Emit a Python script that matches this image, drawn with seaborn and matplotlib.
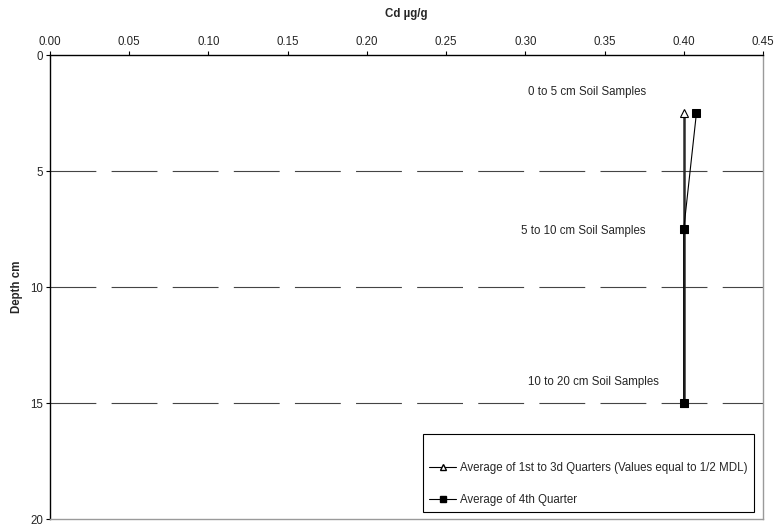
import matplotlib
matplotlib.use("Agg")
import matplotlib.pyplot as plt
import seaborn as sns
import pandas as pd
from matplotlib.lines import Line2D
from matplotlib.ticker import FormatStrFormatter

# sample depths (cm) and Cd concentrations (ug/g)
depth = [2.5, 7.5, 15.0]
avg_q1_q3 = [0.40, 0.40, 0.40]
avg_q4 = [0.408, 0.40, 0.40]
layer_labels = ["0 to 5 cm Soil Samples", "5 to 10 cm Soil Samples", "10 to 20 cm Soil Samples"]
label_x = [0.376, 0.376, 0.384]
label_y = [1.6, 7.6, 14.1]
series_names = ["Average of 1st to 3d Quarters (Values equal to 1/2 MDL)",
                "Average of 4th Quarter"]

FS = 8.3

sns.set_style("white")
plt.rcParams["font.family"] = ["Liberation Sans", "DejaVu Sans"]
plt.rcParams["font.size"] = FS
plt.rcParams["lines.scale_dashes"] = False

fig = plt.figure(figsize=(7.78, 5.24), dpi=100)
ax = fig.add_axes([0.0643, 0.0095, 0.9164, 0.8855])

df1 = pd.DataFrame({"cd": avg_q1_q3, "depth": depth})
df2 = pd.DataFrame({"cd": avg_q4, "depth": depth})

sns.lineplot(data=df1, x="cd", y="depth", sort=False, estimator=None, ax=ax,
             color="#2a2a2a", linewidth=1.8, marker="^", markersize=6,
             markerfacecolor="white", markeredgecolor="black", markeredgewidth=0.8,
             zorder=3)
sns.lineplot(data=df2, x="cd", y="depth", sort=False, estimator=None, ax=ax,
             color="black", linewidth=0.8, marker="s", markersize=5.5,
             markerfacecolor="black", markeredgecolor="black", zorder=4)

for txt, lx, ly in zip(layer_labels, label_x, label_y):
    ax.text(lx, ly, txt, ha="right", va="center", fontsize=FS)

ax.set_xlim(0, 0.45)
ax.set_ylim(20, 0)
ax.set_xticks([i * 0.05 for i in range(10)])
ax.set_yticks([0, 5, 10, 15, 20])
ax.xaxis.set_major_formatter(FormatStrFormatter("%.2f"))
ax.xaxis.tick_top()
ax.xaxis.set_label_position("top")
ax.tick_params(axis="x", direction="out", length=3, width=0.8, color="black",
               top=True, bottom=False, pad=2, labelsize=FS)
ax.tick_params(axis="y", direction="out", length=3, width=0.8, color="black",
               left=True, pad=2, labelsize=FS)
ax.set_xlabel("Cd µg/g", fontweight="bold", fontsize=FS, labelpad=14)
ax.set_ylabel("Depth cm", fontweight="bold", fontsize=FS, labelpad=5)

for side in ["left", "top"]:
    ax.spines[side].set_color("black")
    ax.spines[side].set_linewidth(1.0)
for side in ["right", "bottom"]:
    ax.spines[side].set_color("#9a9a9a")
    ax.spines[side].set_linewidth(1.0)

ax.yaxis.grid(True, color="#444444", linewidth=0.8, linestyle=(0, (33, 11)))
ax.xaxis.grid(False)
gl = ax.get_ygridlines()
gl[0].set_visible(False)
gl[-1].set_visible(False)

handles = [
    Line2D([], [], color="black", linewidth=0.8, marker="^", markersize=5,
           markerfacecolor="white", markeredgecolor="black"),
    Line2D([], [], color="black", linewidth=0.8, marker="s", markersize=5,
           markerfacecolor="black", markeredgecolor="black"),
]
# blank title only adds the extra room above the first entry
leg = ax.legend(handles, series_names, loc="lower left",
                bbox_to_anchor=(0.523, 0.015, 0.464, 0.17), mode="expand",
                frameon=True, fancybox=False, edgecolor="black", framealpha=1,
                fontsize=FS, handlelength=2.4, handletextpad=0.3,
                labelspacing=1.8, borderpad=0.5, borderaxespad=0,
                title=" ", title_fontsize=1)
leg.get_frame().set_linewidth(0.8)

fig.savefig("out.png", dpi=100)
